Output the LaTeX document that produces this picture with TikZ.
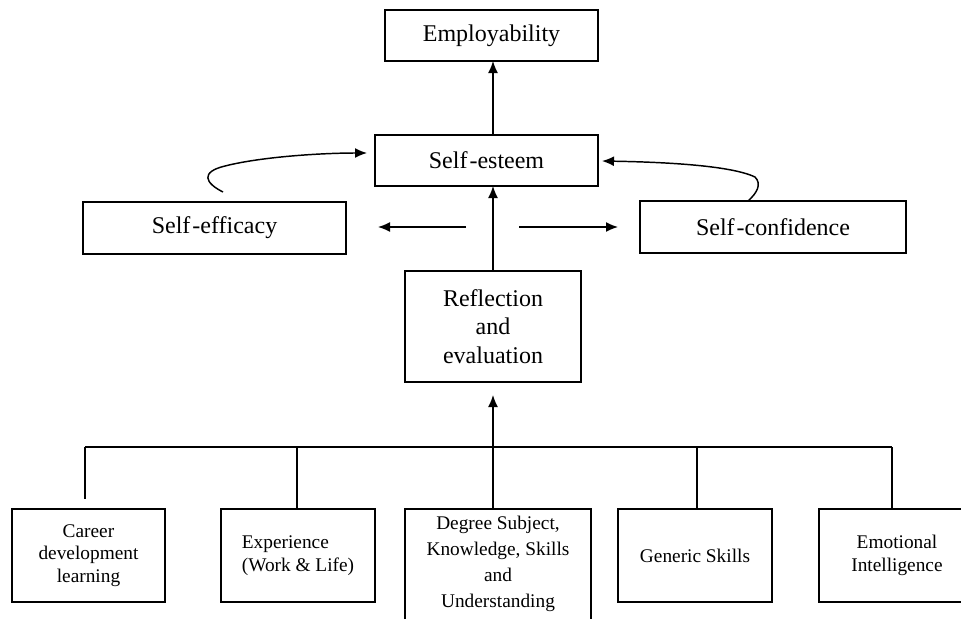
\documentclass[tikz,border=0pt]{standalone}
\usepackage{fontspec}
\setmainfont{Liberation Serif}
\usetikzlibrary{arrows.meta}
\begin{document}
\begin{tikzpicture}[x=0.75pt,y=-0.75pt,
  box/.style={draw, line width=1.1pt, inner sep=0pt, outer sep=0pt,
    font=\fontsize{18}{21.4}\selectfont, align=center},
  smallbox/.style={draw, line width=1.1pt, inner sep=0pt, outer sep=0pt,
    font=\fontsize{14.5}{17}\selectfont, align=center,
    minimum width=115.5pt, minimum height=69.75pt},
  conn/.style={line width=1.1pt},
  arr/.style={line width=1.1pt, -{Latex[length=9pt,width=7.5pt]}}]
\useasboundingbox (0,0) rectangle (961,619);
\clip (0,0) rectangle (961,619);

% upper boxes
\node[box, minimum width=159.75pt, minimum height=38.25pt] (emp) at (491.5,35.5) {Employability};
\node[box, minimum width=167.25pt, minimum height=38.25pt] (se) at (486.5,160.5) {Self\kern1.5pt-esteem};
\node[box, minimum width=197.25pt, minimum height=39pt] (eff) at (214.5,228) {Self\kern1.5pt-efficacy};
\node[box, minimum width=199.5pt, minimum height=39pt] (conf) at (773,227) {Self\kern1.5pt-confidence};
\node[box, minimum width=132pt, minimum height=83.25pt] (refl) at (493,326.5) {Reflection\\and\\evaluation};

% lower boxes
\node[smallbox, minimum width=114.75pt] (b1) at (88.5,555.5) {Career\\development\\learning};
\node[smallbox, align=left] (b2) at (298,555.5) {Experience\\(Work \& Life)};
\node[draw=none, inner sep=0pt, outer sep=0pt, minimum width=139.5pt, minimum height=82.5pt,
  font=\fontsize{14.5}{19.5}\selectfont, align=center] (b3) at (498,564)
  {Degree Subject,\\Knowledge, Skills\\and\\Understanding};
\draw[conn] (b3.south west) |- (b3.north east) -- (b3.south east);
\node[smallbox] (b4) at (695,555.5) {Generic Skills};
\node[smallbox, minimum width=117pt] (b5) at (897,555.5) {Emotional\\Intelligence};

% coordinates
\coordinate (la1) at (466,227);
\coordinate (la2) at (378,227);
\coordinate (ra1) at (519,227);
\coordinate (ra2) at (618,227);
\coordinate (h1) at (85,447);
\coordinate (h1d) at (85,499);
\coordinate (h2) at (297,447);
\coordinate (hm) at (493,447);
\coordinate (h4) at (697,447);
\coordinate (h5) at (892,447);
\coordinate (rt) at (493,395);
\coordinate (cl0) at (223,192);
\coordinate (cl1) at (367,153);
\coordinate (cr1) at (602,161);

% connectors
\draw[arr] (refl.north |- se.north) -- (refl.north |- emp.south);
\draw[arr] (refl.north) -- (refl.north |- se.south);
\draw[arr] (la1) -- (la2);
\draw[arr] (ra1) -- (ra2);
\draw[arr] (cl0) .. controls (205,183) and (200,172) .. (225,166)
  .. controls (260,157) and (320,153) .. (cl1);
\draw[arr] (conf.north -| 748,0) .. controls (757,193) and (762,184) .. (755,177)
  .. controls (730,165) and (660,162) .. (cr1);

\draw[conn] (h1) -- (h5);
\draw[conn] (h1) -- (h1d);
\draw[conn] (h2) -- (h2 |- b2.north);
\draw[conn] (hm) -- (hm |- b3.north);
\draw[conn] (h4) -- (h4 |- b4.north);
\draw[conn] (h5) -- (h5 |- b5.north);
\draw[arr] (hm) -- (rt);
\end{tikzpicture}
\end{document}
